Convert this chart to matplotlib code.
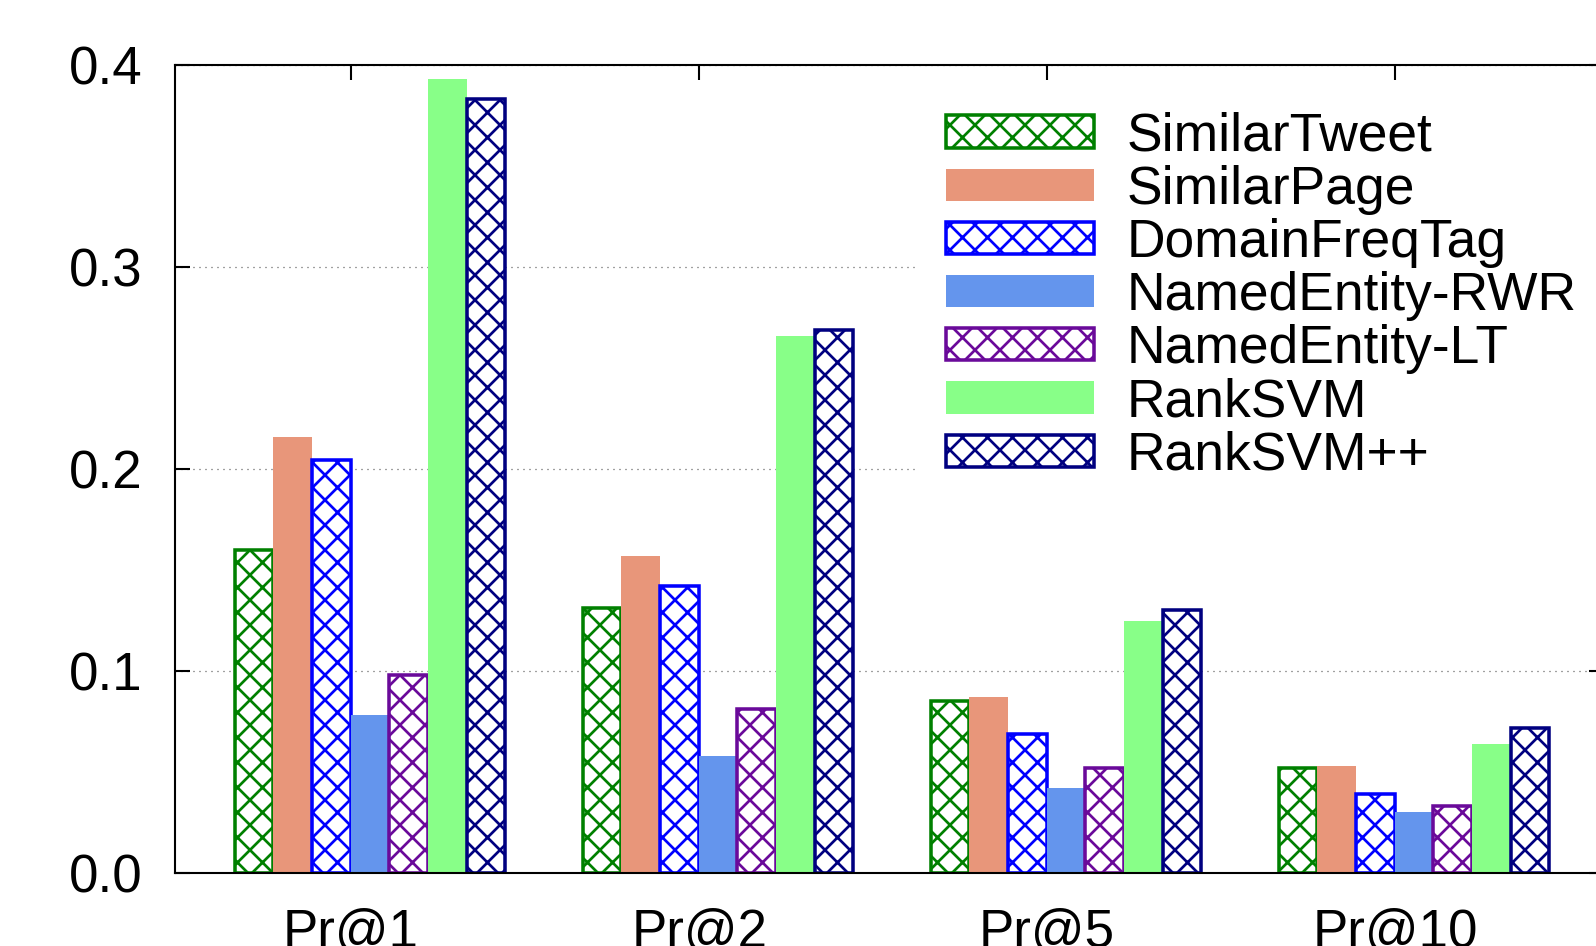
import matplotlib
matplotlib.use('Agg')
import matplotlib.pyplot as plt
import numpy as np

plt.rcParams['font.family'] = ['Liberation Sans', 'DejaVu Sans']
plt.rcParams['hatch.linewidth'] = 1.3

# data
categories = ['Pr@1', 'Pr@2', 'Pr@5', 'Pr@10']
methods = ['SimilarTweet', 'SimilarPage', 'DomainFreqTag', 'NamedEntity-RWR',
           'NamedEntity-LT', 'RankSVM', 'RankSVM++']
similar_tweet = [0.160, 0.131, 0.085, 0.052]
similar_page = [0.216, 0.157, 0.087, 0.053]
domain_freq_tag = [0.2045, 0.142, 0.069, 0.039]
ne_rwr = [0.078, 0.058, 0.042, 0.030]
ne_lt = [0.098, 0.081, 0.052, 0.033]
rank_svm = [0.393, 0.266, 0.125, 0.064]
rank_svm_pp = [0.383, 0.269, 0.130, 0.072]

series = [similar_tweet, similar_page, domain_freq_tag, ne_rwr, ne_lt, rank_svm, rank_svm_pp]
colors = ['#008000', '#E8967A', '#0000FF', '#6495ED', '#6A0A9A', '#88FF88', '#000080']
hatched = [True, False, True, False, True, False, True]

dpi = 150
fig = plt.figure(figsize=(1596 / dpi, 946 / dpi), dpi=dpi)
ax = fig.add_axes([175 / 1596, 1 - 873 / 946, (1604 - 175) / 1596, (873 - 65) / 946])

x = np.arange(len(categories))
w = 1 / 9
for j, (vals, c, h) in enumerate(zip(series, colors, hatched)):
    pos = x - 0.279 + j * w
    if h:
        ax.bar(pos, vals, w, facecolor='white', edgecolor=c, hatch='xx',
               linewidth=1.7, label=methods[j], zorder=2)
    else:
        ax.bar(pos, vals, w, color=c, linewidth=0, label=methods[j], zorder=2)

ax.set_xlim(-0.506, 3.6)
ax.set_ylim(0, 0.4)
ax.set_xticks(x)
ax.set_xticklabels(categories)
yt = [0.0, 0.1, 0.2, 0.3, 0.4]
ax.set_yticks(yt)
ax.set_yticklabels([f'{v:.1f}' for v in yt])
ax.tick_params(axis='both', direction='in', length=7.2, width=1.0,
               top=True, right=True, labelsize=25.4)
ax.tick_params(axis='y', pad=15.6)
ax.tick_params(axis='x', pad=17)
for s in ax.spines.values():
    s.set_linewidth(1.0)

ax.set_axisbelow(True)
ax.yaxis.grid(True, color='#444444', linewidth=0.6, linestyle=(0, (0.8, 4)))

leg = ax.legend(loc='upper left', bbox_to_anchor=(916 / 1596, 1 - 81 / 946),
                bbox_transform=fig.transFigure, fontsize=25.6, frameon=True,
                fancybox=False, borderpad=0.57, borderaxespad=0,
                handlelength=2.77, handleheight=0.55, handletextpad=0.6,
                labelspacing=0.06)
leg.get_frame().set_facecolor('white')
leg.get_frame().set_edgecolor('none')
leg.get_frame().set_alpha(1)

fig.savefig('out.png', dpi=dpi)
